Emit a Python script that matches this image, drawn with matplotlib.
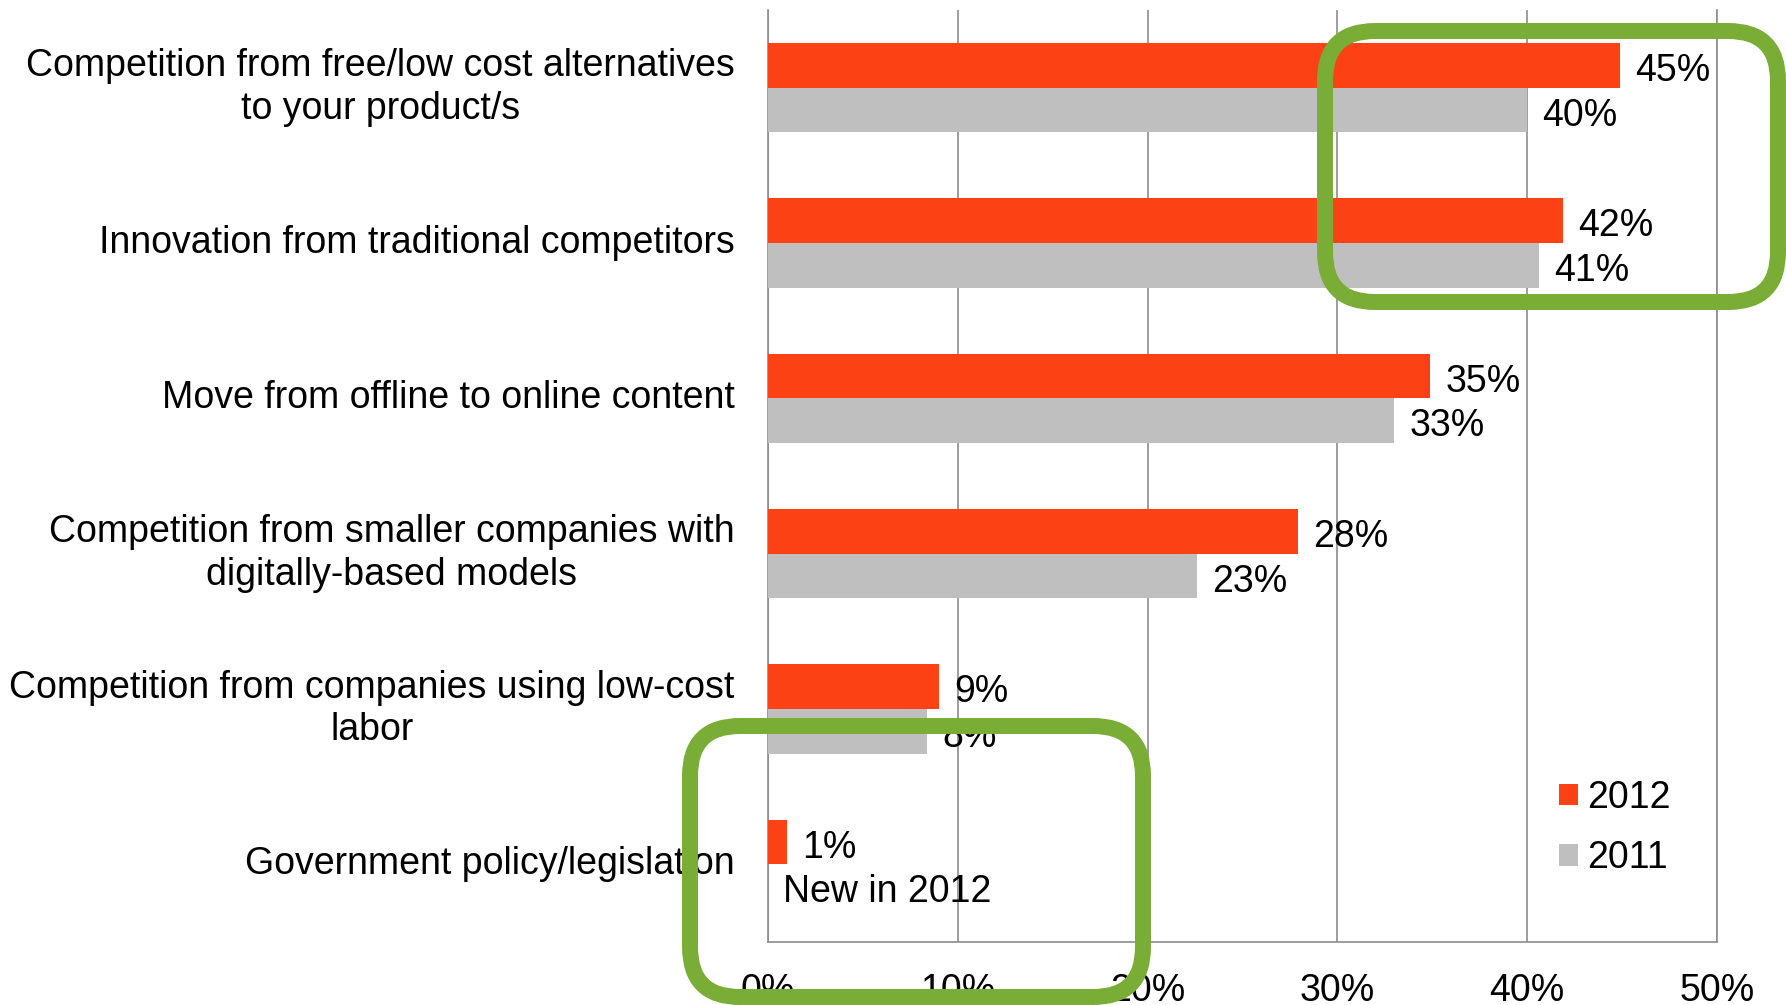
import numpy as np
import matplotlib
matplotlib.use("Agg")
import matplotlib.pyplot as plt
from matplotlib.patches import FancyBboxPatch

plt.rcParams["font.family"] = ["Liberation Sans", "DejaVu Sans"]

categories = [
    "Competition from free/low cost alternatives\nto your product/s",
    "Innovation from traditional competitors",
    "Move from offline to online content",
    "Competition from smaller companies with\ndigitally-based models",
    "Competition from companies using low-cost\nlabor",
    "Government policy/legislation",
]
values_2012 = [44.9, 41.9, 34.9, 27.9, 9.0, 1.0]
values_2011 = [40.0, 40.6, 33.0, 22.6, 8.4, np.nan]
ticks = [0, 10, 20, 30, 40, 50]
tick_labels = ["0%", "10%", "20%", "30%", "40%", "50%"]
note_text = "New in 2012"

RED = "#FC4214"
GREY = "#BFBFBF"
GREEN = "#79AD36"
AXIS = "#8C8C8C"
FS = 27

W, H = 1786, 1005
fig = plt.figure(figsize=(W / 100, H / 100), dpi=100)
ax = fig.add_axes([768 / W, 1 - 942 / H, (1717 - 768) / W, (942 - 10) / H])

y = np.arange(len(categories))
h = 0.287
bars_new = ax.barh(y - h / 2, values_2012, height=h, color=RED, label="2012", zorder=3)
bars_old = ax.barh(y + h / 2, values_2011, height=h, color=GREY, label="2011", zorder=3)

for bars, vals in [(bars_new, values_2012), (bars_old, values_2011)]:
    for b, v in zip(bars, vals):
        if np.isnan(v):
            continue
        ax.annotate(f"{v:.0f}%", (v, b.get_y() + b.get_height() / 2),
                    xytext=(11, -4), textcoords="offset points",
                    ha="left", va="center", fontsize=FS, zorder=4)

# last category has no 2011 value
ax.annotate(note_text, (0, y[-1] + h / 2), xytext=(11, -4), textcoords="offset points",
            ha="left", va="center", fontsize=FS, zorder=4)

ax.set_xlim(0, 50)
ax.set_ylim(len(categories) - 0.5, -0.5)
ax.set_xticks(ticks)
ax.set_xticklabels(tick_labels)
ax.set_yticks(y)
ax.set_yticklabels(categories)
for t in ax.get_yticklabels():
    t.set_multialignment("center")
    t.set_verticalalignment("center")
    t.set_linespacing(1.23)
ax.tick_params(axis="both", length=0, labelsize=FS)
ax.tick_params(axis="y", pad=24)
ax.tick_params(axis="x", pad=22)

ax.grid(axis="x", color=AXIS, linewidth=1.2, zorder=0)
ax.spines["top"].set_visible(False)
for s in ["left", "bottom", "right"]:
    ax.spines[s].set_color(AXIS)
    ax.spines[s].set_linewidth(1.2)

ax.legend(loc="upper left", bbox_to_anchor=(1559 / W, 1 - 780 / H),
          bbox_transform=fig.transFigure, frameon=False, fontsize=FS,
          handlelength=0.5, handleheight=0.5, handletextpad=0.25,
          labelspacing=0.65, borderpad=0, borderaxespad=0)

# green highlight boxes drawn on a pixel overlay
ov = fig.add_axes([0, 0, 1, 1], zorder=10)
ov.set_xlim(0, W)
ov.set_ylim(H, 0)
ov.axis("off")
for x0, y0, x1, y1 in [(1325, 31, 1778, 302), (690, 726, 1143, 997)]:
    ov.add_patch(FancyBboxPatch((x0, y0), x1 - x0, y1 - y0,
                                boxstyle="round,pad=0,rounding_size=50",
                                fill=False, edgecolor=GREEN, linewidth=11.5))

fig.savefig("out.png", dpi=100)
